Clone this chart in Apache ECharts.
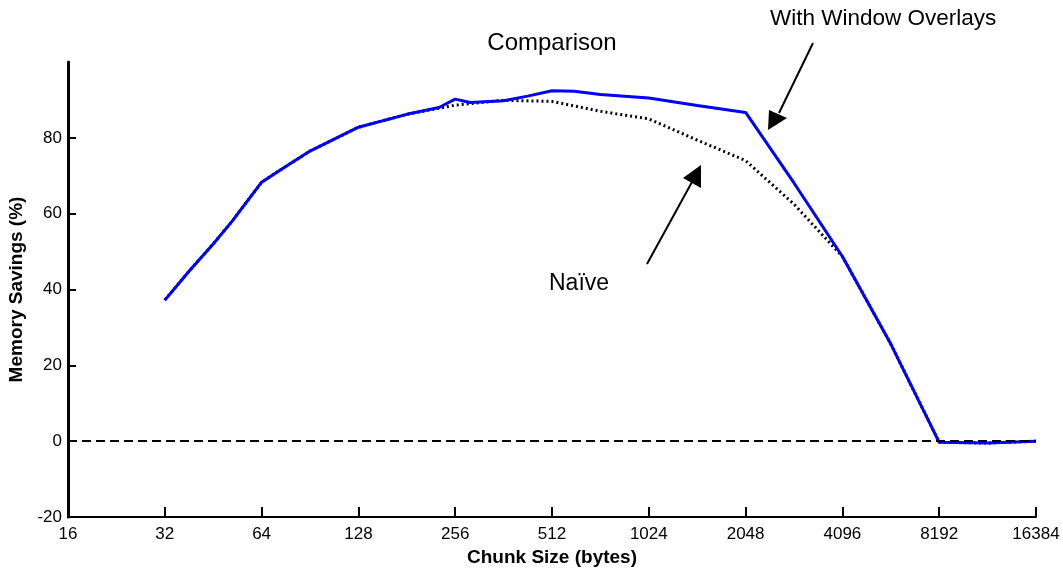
<!DOCTYPE html>
<html>
<head>
<meta charset="utf-8">
<script src="https://cdn.jsdelivr.net/npm/echarts@6/dist/echarts.min.js"></script>
<style>
  html, body { margin: 0; padding: 0; background: #fff; }
  #main { width: 1063px; height: 569px; }
</style>
</head>
<body>
<div id="main"></div>
<script>
// chunk sizes (bytes) sampled along the curves
var overlaySizes = [32, 38.3, 45.25, 51.7, 64, 74, 90.5, 128, 181, 228, 256, 285, 362, 430, 512, 600, 724, 1024, 1448, 2048, 2896, 4096, 5793, 8192, 11585, 16384];
var overlaySavings = [37.2, 45.1, 52.0, 57.9, 68.3, 71.8, 76.5, 82.8, 86.2, 88.0, 90.2, 89.3, 89.8, 91.0, 92.4, 92.3, 91.4, 90.5, 88.5, 86.7, 68.1, 48.7, 25.6, -0.3, -0.5, 0];

var naiveSizes = [32, 38.3, 45.25, 51.7, 64, 74, 90.5, 128, 181, 228, 256, 362, 512, 724, 1024, 1448, 2048, 2896, 4096, 5793, 8192, 11585, 16384];
var naiveSavings = [37.2, 45.1, 52.0, 57.9, 68.3, 71.8, 76.5, 82.8, 86.2, 87.8, 88.6, 89.9, 89.6, 87.0, 85.0, 79.4, 74.0, 62.5, 48.7, 25.6, -0.3, -0.5, 0];

var yTicks = [-20, 0, 20, 40, 60, 80];

function pairs(xs, ys) {
    return xs.map(function (x, i) { return [x, ys[i]]; });
}

var chartDom = document.getElementById('main');
var myChart = echarts.init(chartDom);
var option;

option = {
    animation: false,
    textStyle: { fontFamily: 'Liberation Sans, Arial, sans-serif', color: '#000' },
    title: {
        text: 'Comparison',
        left: 547,
        top: 26,
        textAlign: 'center',
        textStyle: { fontSize: 24, fontWeight: 'normal', color: '#000' }
    },
    grid: {
        left: 68,
        right: 27,
        top: 62,
        bottom: 52,
        outerBoundsMode: 'none'
    },
    xAxis: {
        type: 'log',
        logBase: 2,
        min: 16,
        max: 16384,
        interval: 1,
        name: 'Chunk Size (bytes)',
        nameLocation: 'middle',
        nameGap: 28,
        nameTextStyle: { fontSize: 19, fontWeight: 'bold', color: '#000', verticalAlign: 'top' },
        axisLine: { onZero: false, lineStyle: { color: '#000', width: 2 } },
        axisTick: { inside: true, length: 10, lineStyle: { color: '#000', width: 2 } },
        axisLabel: {
            fontSize: 17, color: '#000', margin: 9,
            formatter: function (v) { return String(Math.round(v)); }
        },
        splitLine: { show: false }
    },
    yAxis: {
        type: 'value',
        min: -20,
        max: 100,
        interval: 20,
        name: 'Memory Savings (%)',
        nameLocation: 'middle',
        nameGap: 34,
        nameTextStyle: { fontSize: 19, fontWeight: 'bold', color: '#000' },
        axisLine: { show: true, onZero: false, lineStyle: { color: '#000', width: 3 } },
        axisTick: { show: true, inside: true, length: 8, customValues: yTicks, lineStyle: { color: '#000', width: 2 } },
        axisLabel: { fontSize: 17, color: '#000', margin: 6, customValues: yTicks },
        splitLine: { show: false }
    },
    series: [
        {
            name: 'Naïve',
            type: 'line',
            data: pairs(naiveSizes, naiveSavings),
            showSymbol: false,
            symbol: 'none',
            z: 2,
            lineStyle: { color: '#000', width: 3, type: [2, 3] },
            markLine: {
                silent: true,
                symbol: 'none',
                label: { show: false },
                lineStyle: { color: '#000', width: 1.8, type: [9, 5] },
                data: [{ yAxis: 0 }]
            }
        },
        {
            name: 'With Window Overlays',
            type: 'line',
            data: pairs(overlaySizes, overlaySavings),
            showSymbol: false,
            symbol: 'none',
            z: 3,
            lineStyle: { color: '#0000ff', width: 3 }
        }
    ],
    graphic: [
        {
            type: 'text',
            left: 770,
            top: 7,
            style: { text: 'With Window Overlays', fill: '#000', font: '22.5px Liberation Sans, Arial, sans-serif' }
        },
        {
            type: 'line',
            shape: { x1: 813, y1: 43, x2: 779, y2: 113 },
            style: { stroke: '#000', lineWidth: 2 }
        },
        {
            type: 'polygon',
            shape: { points: [[768, 130], [769, 110], [787, 118]] },
            style: { fill: '#000' }
        },
        {
            type: 'text',
            left: 549,
            top: 272,
            style: { text: 'Naïve', fill: '#000', font: '23px Liberation Sans, Arial, sans-serif' }
        },
        {
            type: 'line',
            shape: { x1: 647, y1: 264, x2: 692, y2: 182 },
            style: { stroke: '#000', lineWidth: 2 }
        },
        {
            type: 'polygon',
            shape: { points: [[701, 165], [683, 178], [701, 188]] },
            style: { fill: '#000' }
        }
    ]
};

option && myChart.setOption(option);
</script>
</body>
</html>
